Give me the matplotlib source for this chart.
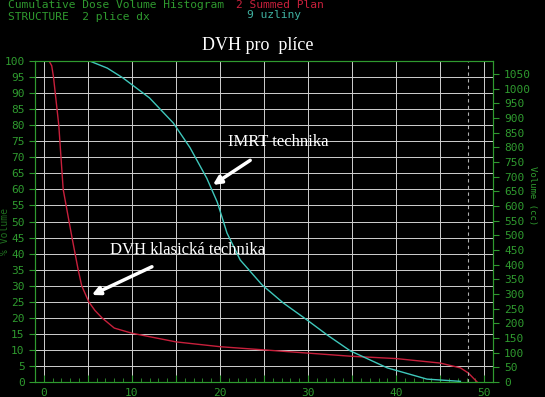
import matplotlib.pyplot as plt
from matplotlib.ticker import MultipleLocator, FuncFormatter

# DVH data: dose (x) vs volume in %
dose_klasicka = [0.6, 0.9, 1.1, 1.7, 2.2, 3.2, 3.9, 4.3, 5.1, 5.8, 6.6, 8.0, 10, 15, 20, 25, 30, 35, 40, 45, 47.3, 48.2, 49.2]
vol_klasicka = [100, 98.5, 95, 80, 60, 45, 35, 30, 25, 22.3, 20, 16.8, 15.2, 12.5, 11, 10, 9, 8, 7.3, 5.9, 4.4, 2.8, 0]

dose_imrt = [0.7, 5.2, 7.2, 9, 12, 14.7, 16.6, 18.5, 19.7, 20.8, 22.3, 24.8, 27.2, 29.9, 32.2, 34.8, 39, 43.5, 47.3]
vol_imrt = [100, 100, 97.8, 94.7, 88.5, 80.7, 73, 63.5, 56, 46.4, 38, 30.2, 24.6, 19.3, 14.6, 9.7, 4.4, 0.9, 0.2]

x_labels = [0, 10, 20, 30, 40, 50]
cc_max = 1094   # volume in cc that matches 100 %
dashed_dose = 48.2

green = '#2f9a2f'
mono = 'DejaVu Sans Mono'

fig = plt.figure(figsize=(5.45, 3.97), dpi=100, facecolor='black')
ax = fig.add_axes([35/545, 1 - 382/397, (493 - 35)/545, (382 - 61)/397])
ax.set_facecolor('black')

ax.plot(dose_klasicka, vol_klasicka, color='#c8203c', lw=1)
ax.plot(dose_imrt, vol_imrt, color='#3fc8bc', lw=1)
ax.axvline(dashed_dose, color='#b0b0b0', lw=0.8, ls=(0, (3, 3)))

ax.set_xlim(-1.0, 51.0)
ax.set_ylim(0, 100)

ax.xaxis.set_major_locator(MultipleLocator(5))
ax.xaxis.set_minor_locator(MultipleLocator(1))
ax.xaxis.set_major_formatter(FuncFormatter(lambda v, p: '%d' % v if int(round(v)) in x_labels else ''))
ax.yaxis.set_major_locator(MultipleLocator(5))
ax.grid(True, which='major', color='#d0d0d0', lw=0.7)

ax.tick_params(axis='x', which='both', direction='in', colors=green, labelsize=8, pad=4)
ax.tick_params(axis='x', which='major', length=5)
ax.tick_params(axis='x', which='minor', length=3)
ax.tick_params(axis='y', direction='out', colors=green, labelsize=8, length=4)
for lbl in ax.get_xticklabels() + ax.get_yticklabels():
    lbl.set_family(mono)
for s in ax.spines.values():
    s.set_color(green)

ax2 = ax.twinx()
ax2.set_ylim(0, cc_max)
ax2.yaxis.set_major_locator(MultipleLocator(50))
ax2.tick_params(axis='y', direction='out', colors=green, labelsize=8, length=4, pad=4)
for lbl in ax2.get_yticklabels():
    lbl.set_family(mono)
for s in ax2.spines.values():
    s.set_color(green)

ax.set_ylabel('% Volume', color='#1f6f1f', fontsize=7, family=mono)
ax.yaxis.set_label_coords(-0.055, 0.47)
ax2.set_ylabel('Volume (cc)', color=green, fontsize=6.5, family=mono, rotation=270)
ax2.yaxis.set_label_coords(1.097, 0.58)

# header texts
fig.text(8/545, 1 - 5/397, 'Cumulative Dose Volume Histogram', color=green, fontsize=8.1,
         family=mono, va='center', ha='left')
fig.text(236/545, 1 - 5/397, '2 Summed Plan', color='#c8203c', fontsize=8.1,
         family=mono, va='center', ha='left')
fig.text(8/545, 1 - 17/397, 'STRUCTURE  2 plice dx', color=green, fontsize=8.1,
         family=mono, va='center', ha='left')
fig.text(247/545, 1 - 15/397, '9 uzliny', color='#3fb0a0', fontsize=8.1,
         family=mono, va='center', ha='left')

fig.text(258/545, 1 - 45/397, 'DVH pro  plíce', color='white', fontsize=13,
         family='Liberation Serif', ha='center', va='center')

ax.annotate('IMRT technika', xy=(19.2, 61.4), xytext=(20.9, 74.8),
            color='white', fontsize=12, family='Liberation Serif', va='center',
            arrowprops=dict(arrowstyle='-|>', color='white', lw=2.5, mutation_scale=12,
                            shrinkA=10, shrinkB=0))
ax.annotate('DVH klasická technika', xy=(5.45, 27.1), xytext=(7.5, 41.1),
            color='white', fontsize=12, family='Liberation Serif', va='center',
            arrowprops=dict(arrowstyle='-|>', color='white', lw=2.5, mutation_scale=12,
                            shrinkA=10, shrinkB=0))

fig.savefig('out.png', dpi=100, facecolor='black')
